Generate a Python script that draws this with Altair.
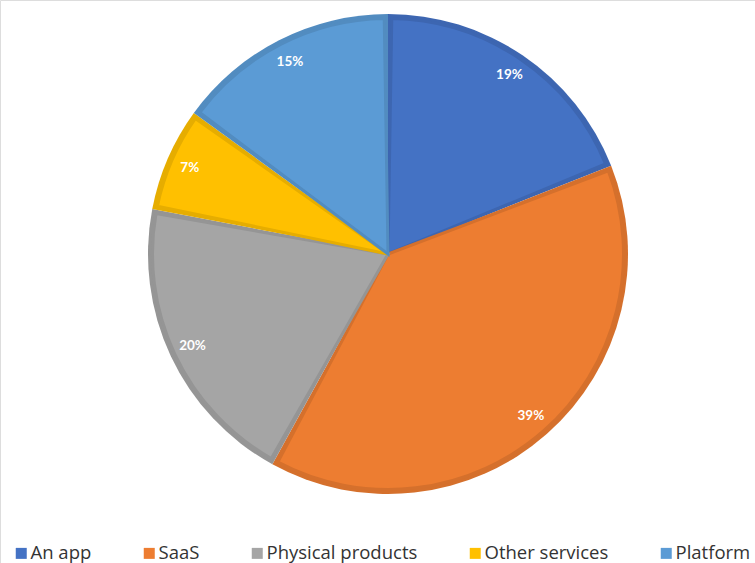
import altair as alt
import pandas as pd

categories = ["An app", "SaaS", "Physical products", "Other services", "Platform"]
values = [19, 39, 20, 7, 15]
labels = ["19%", "39%", "20%", "7%", "15%"]
main_colors = ["#4472C4", "#ED7D31", "#A5A5A5", "#FFC000", "#5B9BD5"]
dark_colors = ["#3D66B1", "#D5702C", "#959595", "#E6AD00", "#528CC0"]

df = pd.DataFrame({
    "cat": categories,
    "val": values,
    "lab": labels,
    "dark": dark_colors,
    "idx": list(range(len(categories))),
})

base = alt.Chart(df).encode(
    theta=alt.Theta("val:Q", stack=True),
    order=alt.Order("idx:Q"),
    x=alt.value(388),
    y=alt.value(254),
)

outer = base.mark_arc(outerRadius=240).encode(
    fill=alt.Fill("dark:N", scale=None, legend=None)
)

inner = base.mark_arc(outerRadius=235.5, padAngle=0.032, strokeWidth=3).encode(
    stroke=alt.Stroke("dark:N", scale=None, legend=None),
    color=alt.Color(
        "cat:N",
        scale=alt.Scale(domain=categories, range=main_colors),
        sort=categories,
        legend=alt.Legend(
            title=None,
            orient="none",
            legendX=12,
            legendY=544,
            direction="horizontal",
            columns=5,
            symbolType="square",
            symbolSize=121,
            symbolStrokeWidth=0,
            labelFont="Open Sans",
            labelFontSize=18.5,
            labelColor="#333333",
            labelOffset=0,
            columnPadding=48,
            padding=0,
        ),
    ),
)

text = base.mark_text(
    radius=216, font="Lato", fontSize=13.5, fontWeight="bold", color="white"
).encode(text="lab:N")

chart = (
    alt.layer(outer, inner, text)
    .properties(width=755, height=563, autosize=alt.AutoSizeParams(type="none"), padding=0)
    .configure_view(stroke=None)
    .configure(background="white")
)

chart.save("out.html", embed_options={"renderer": "svg", "actions": False})
